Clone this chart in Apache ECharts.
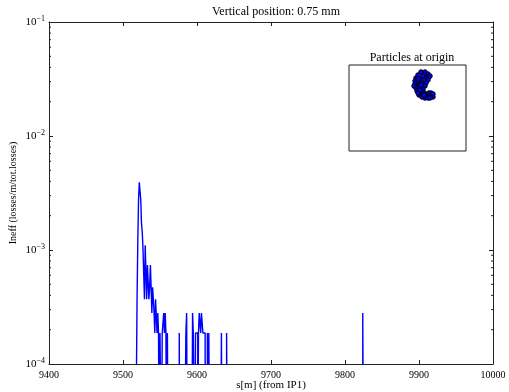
<!DOCTYPE html>
<html>
<head>
<meta charset="utf-8">
<script src="https://cdn.jsdelivr.net/npm/echarts@6/dist/echarts.min.js"></script>
<style>
  html, body { margin: 0; padding: 0; background: #fff; }
  #chart { width: 509px; height: 392px; }
</style>
</head>
<body>
<div id="chart"></div>
<script>
// histogram bins (1 m wide), left edge in s[m] and value; empty bins are left out
const binStart = [
  9519, 9520, 9521, 9522, 9523, 9524, 9525, 9526, 9527, 9528,
  9529, 9530, 9531, 9532, 9533, 9534, 9535, 9536, 9537, 9538,
  9539, 9540, 9541, 9542, 9543, 9544, 9545, 9546, 9547, 9548,
  9550, 9551, 9553, 9554, 9555, 9556, 9557, 9558, 9560,
  9576, 9585, 9586, 9594, 9595, 9596, 9598, 9599, 9600, 9602,
  9603, 9604, 9605, 9606, 9607, 9608, 9609, 9610, 9614, 9616,
  9633, 9640, 9824
];
const binValue = [
  3.7e-4, 1.18e-3, 2.76e-3, 3.93e-3, 3.93e-3, 2.76e-3, 1.71e-3, 1.44e-3, 1.03e-3, 1.03e-3,
  3.7e-4, 1.1e-3, 1.1e-3, 3.7e-4, 7.4e-4, 7.4e-4, 3.7e-4, 4.7e-4, 7.4e-4, 4.7e-4,
  2.8e-4, 4.7e-4, 3.7e-4, 2.8e-4, 1.87e-4, 3.7e-4, 3.7e-4, 1.87e-4, 2.8e-4, 1.87e-4,
  1.87e-4, 1.87e-4, 1.87e-4, 1.87e-4, 2.8e-4, 1.87e-4, 2.8e-4, 1.87e-4, 1.87e-4,
  1.87e-4, 1.87e-4, 2.8e-4, 2.8e-4, 1.87e-4, 1.87e-4, 1.87e-4, 1.87e-4, 1.87e-4, 1.87e-4,
  2.8e-4, 2.8e-4, 1.87e-4, 2.8e-4, 2.8e-4, 1.87e-4, 1.87e-4, 1.87e-4, 1.87e-4, 1.87e-4,
  1.87e-4, 1.87e-4, 2.8e-4
];
const binWidth = 1;
const emptyValue = 1e-5; // below the axis, gets clipped like matplotlib does

const yMajor = [1e-4, 1e-3, 1e-2, 1e-1];
const yMinor = [
  2e-4, 3e-4, 4e-4, 5e-4, 6e-4, 7e-4, 8e-4, 9e-4,
  2e-3, 3e-3, 4e-3, 5e-3, 6e-3, 7e-3, 8e-3, 9e-3,
  2e-2, 3e-2, 4e-2, 5e-2, 6e-2, 7e-2, 8e-2, 9e-2
];

// particle positions in the inset (inset pixel units, y up)
const particleX = [
  72, 76, 79, 69, 74, 78, 80, 67, 71, 75, 79, 66, 69, 73, 77, 81,
  66, 68, 72, 67, 70, 74, 68, 71, 75, 78, 70, 73, 77, 80, 83, 80,
  82, 84, 76, 73, 69, 65, 79, 84, 81, 70, 75, 72, 76, 69, 71
];
const particleY = [
  79, 79, 77, 76, 75, 74, 74, 73, 72, 71, 71, 70, 69, 68, 68, 75,
  67, 65, 64, 63, 62, 61, 60, 59, 58, 57, 56, 55, 55, 55, 56, 58,
  58, 54, 53, 54, 58, 65, 53, 57, 53, 66, 56, 66, 65, 72, 61
];

const serif = "'Liberation Serif', 'DejaVu Serif', serif";
const axisColor = "#222";

// build step data over the whole range
const valueAt = new Map();
binStart.forEach((s, i) => valueAt.set(s, binValue[i]));
const stepData = [];
for (let s = 9505; s <= 9830; s += binWidth) {
  stepData.push([s, valueAt.has(s) ? valueAt.get(s) : emptyValue]);
}

function powLabel(v) {
  const e = Math.round(Math.log10(v));
  return "{b|10}{s|" + (e < 0 ? "\u2212" + -e : e) + "}";
}

const chart = echarts.init(document.getElementById("chart"));
chart.setOption({
  animation: false,
  backgroundColor: "#fff",
  title: [
    {
      text: "Vertical position: 0.75 mm",
      left: 271,
      top: 1,
      textAlign: "center",
      textStyle: { fontFamily: serif, fontSize: 12, fontWeight: "normal", color: "#000" },
    },
    {
      text: "Particles at origin",
      left: 407,
      top: 47,
      textAlign: "center",
      textStyle: { fontFamily: serif, fontSize: 12, fontWeight: "normal", color: "#000" },
    },
  ],
  grid: [
    { left: 49, top: 22, width: 444, height: 342, outerBoundsMode: "none", containLabel: false },
    { left: 349, top: 65, width: 117, height: 86, outerBoundsMode: "none", show: true, borderColor: axisColor, borderWidth: 1, backgroundColor: "#fff", z: 5 },
  ],
  xAxis: [
    {
      type: "value",
      gridIndex: 0,
      min: 9400,
      max: 10000,
      interval: 100,
      position: "bottom",
      name: "s[m] (from IP1)",
      nameLocation: "middle",
      nameGap: 16,
      nameMoveOverlap: false,
      nameTextStyle: { fontFamily: serif, fontSize: 11, color: "#000" },
      axisLine: { lineStyle: { color: axisColor, width: 1 } },
      axisTick: { inside: true, length: 4, lineStyle: { color: axisColor } },
      axisLabel: { fontFamily: serif, fontSize: 10, color: "#000", margin: 6, formatter: (v) => String(v) },
      splitLine: { show: false },
    },
    {
      type: "value",
      gridIndex: 0,
      min: 9400,
      max: 10000,
      interval: 100,
      position: "top",
      axisLine: { lineStyle: { color: axisColor, width: 1 } },
      axisTick: { inside: true, length: 4, lineStyle: { color: axisColor } },
      axisLabel: { show: false },
      splitLine: { show: false },
    },
    { type: "value", gridIndex: 1, min: 0, max: 117, show: false },
  ],
  yAxis: [
    {
      type: "log",
      gridIndex: 0,
      logBase: 10,
      min: yMajor[0],
      max: yMajor[yMajor.length - 1],
      position: "left",
      name: "Ineff (losses/m/tot.losses)",
      nameLocation: "middle",
      nameGap: 31,
      nameMoveOverlap: false,
      nameTextStyle: { fontFamily: serif, fontSize: 10, color: "#000" },
      axisLine: { lineStyle: { color: axisColor, width: 1 } },
      axisTick: { inside: true, length: 4, lineStyle: { color: axisColor } },
      axisLabel: {
        margin: 4,
        formatter: powLabel,
        rich: {
          b: { fontFamily: serif, fontSize: 11, color: "#000" },
          s: { fontFamily: serif, fontSize: 8, color: "#000", verticalAlign: "top", padding: [0, 0, 7, 0] },
        },
      },
      splitLine: { show: false },
    },
    {
      type: "log",
      gridIndex: 0,
      logBase: 10,
      min: yMajor[0],
      max: yMajor[yMajor.length - 1],
      position: "right",
      axisLine: { lineStyle: { color: axisColor, width: 1 } },
      axisTick: { inside: true, length: 4, lineStyle: { color: axisColor } },
      axisLabel: { show: false },
      splitLine: { show: false },
    },
    { type: "value", gridIndex: 1, min: 0, max: 86, show: false },
  ],
  series: [
    {
      type: "line",
      xAxisIndex: 0,
      yAxisIndex: 0,
      step: "end",
      data: stepData,
      showSymbol: false,
      clip: true,
      lineStyle: { color: "#0000ff", width: 1.4 },
      z: 2,
    },
    {
      // minor log ticks, both sides
      type: "custom",
      xAxisIndex: 0,
      yAxisIndex: 0,
      clip: false,
      data: yMinor.map((v) => [9400, v]),
      renderItem: (params, api) => {
        const v = api.value(1);
        const l = api.coord([9400, v]);
        const r = api.coord([10000, v]);
        const st = { stroke: axisColor, lineWidth: 1 };
        return {
          type: "group",
          children: [
            { type: "line", shape: { x1: l[0], y1: l[1], x2: l[0] + 2, y2: l[1] }, style: st },
            { type: "line", shape: { x1: r[0] - 2, y1: r[1], x2: r[0], y2: r[1] }, style: st },
          ],
        };
      },
      z: 3,
    },
    {
      type: "scatter",
      xAxisIndex: 2,
      yAxisIndex: 2,
      data: particleX.map((x, i) => [x, particleY[i]]),
      symbolSize: 4.5,
      itemStyle: { color: "#0000ff", borderColor: "#000", borderWidth: 1, opacity: 1 },
      z: 6,
    },
  ],
});
</script>
</body>
</html>
